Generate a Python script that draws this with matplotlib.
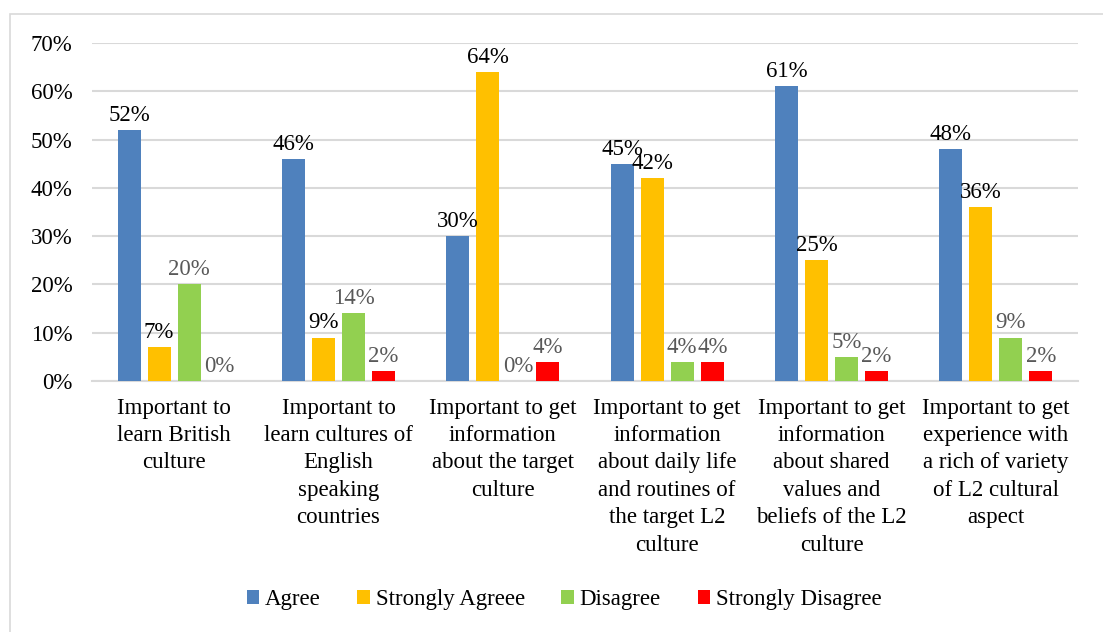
import matplotlib.pyplot as plt
from matplotlib.patches import Rectangle
import numpy as np

plt.rcParams['font.family'] = ['Liberation Serif', 'DejaVu Serif']

categories = [
    'Important to\nlearn British\nculture',
    'Important to\nlearn cultures of\nEnglish\nspeaking\ncountries',
    'Important to get\ninformation\nabout the target\nculture',
    'Important to get\ninformation\nabout daily life\nand routines of\nthe target L2\nculture',
    'Important to get\ninformation\nabout shared\nvalues and\nbeliefs of the L2\nculture',
    'Important to get\nexperience with\na rich of variety\nof L2 cultural\naspect',
]
agree = [52, 46, 30, 45, 61, 48]
strongly_agree = [7, 9, 64, 42, 25, 36]
disagree = [20, 14, 0, 4, 5, 9]
strongly_disagree = [0, 2, 4, 4, 2, 2]

series = [
    ('Agree', agree, '#4F81BD', 'black'),
    ('Strongly Agreee', strongly_agree, '#FFC000', 'black'),
    ('Disagree', disagree, '#92D050', '#595959'),
    ('Strongly Disagree', strongly_disagree, '#FF0000', '#595959'),
]

fs = 16.5

fig = plt.figure(figsize=(11.03, 6.32), dpi=100)
# outer chart border
fig.patches.append(Rectangle((10 / 1103, -0.05), 1.1, 1 - 14 / 632 + 0.05,
                             transform=fig.transFigure, fill=False,
                             edgecolor='#D9D9D9', linewidth=1.2))
ax = fig.add_axes([92 / 1103, 1 - 381 / 632, (1078 - 92) / 1103, (381 - 43) / 632])

x = np.arange(len(categories))
width = 0.14
step = 0.183
for i, (name, vals, color, lcolor) in enumerate(series):
    pos = x + (i - 1.5) * step
    vals = np.array(vals) / 100
    bars = ax.bar(pos, vals, width, color=color, label=name, zorder=3)
    for p, v in zip(pos, vals):
        ax.annotate('%d%%' % round(v * 100), (p, v), xytext=(0, 3),
                    textcoords='offset points', ha='center', va='bottom',
                    fontsize=fs, color=lcolor, zorder=4)

ax.set_xlim(-0.5, 5.5)
ax.set_ylim(0, 0.7)
ax.set_yticks(np.arange(0, 0.71, 0.1))
ax.set_yticklabels(['%d%%' % v for v in range(0, 71, 10)], fontsize=fs)
ax.set_xticks(x)
ax.set_xticklabels(categories, fontsize=fs, linespacing=1.4)
ax.tick_params(axis='both', length=0)
ax.tick_params(axis='y', pad=14)
ax.tick_params(axis='x', pad=12)
ax.grid(axis='y', color='#D9D9D9', linewidth=1.5, zorder=0)
for s in ['top', 'right', 'left']:
    ax.spines[s].set_visible(False)
ax.spines['bottom'].set_color('#D9D9D9')
ax.spines['bottom'].set_linewidth(1.5)

fig.legend(loc='center', bbox_to_anchor=(564 / 1103, 1 - 600 / 632), ncol=4,
           frameon=False, fontsize=fs, handlelength=0.55, handleheight=0.55,
           handletextpad=0.25, columnspacing=1.6)

fig.savefig('out.png', dpi=100)
